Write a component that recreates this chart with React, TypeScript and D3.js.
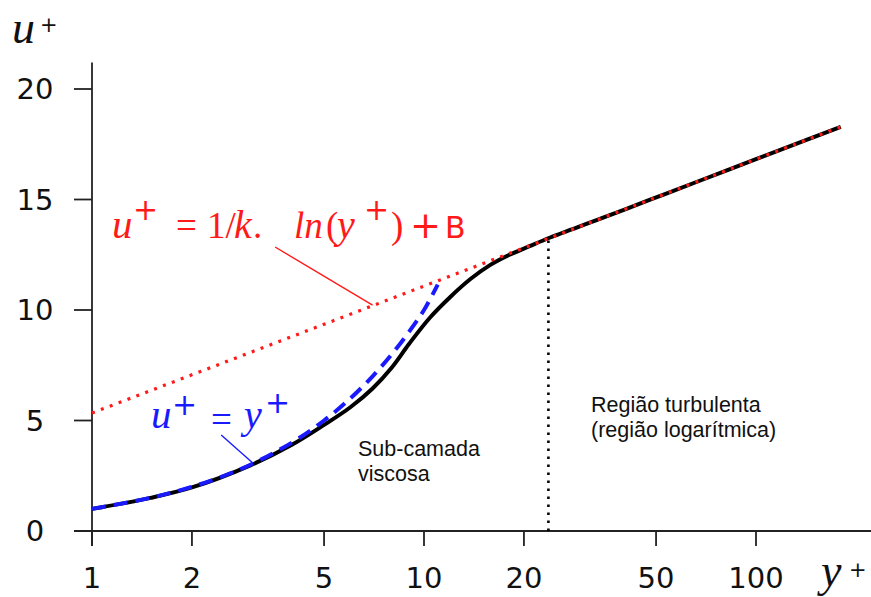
import React from "react";
import * as d3 from "d3";

const xTicks = [1, 2, 5, 10, 20, 50, 100];
const yTicks = [0, 5, 10, 15, 20];

// full velocity profile (black)
const profile: [number, number][] = [
  [1, 1.0], [1.5, 1.5], [2, 1.97], [3, 2.97], [4, 3.9], [5, 4.8], [6, 5.6],
  [7, 6.45], [8, 7.4], [9, 8.45], [10.4, 9.64], [12, 10.59], [13.8, 11.4],
  [15.8, 12.03], [18.1, 12.5], [20.8, 12.89], [24, 13.28], [34, 14.13],
  [48, 14.99], [68, 15.86], [100, 16.83], [140, 17.66], [180, 18.29],
];

// viscous sublayer u+ = y+ (blue dashed)
const viscous: [number, number][] = [
  [1, 1], [1.5, 1.5], [2, 2], [2.5, 2.5], [3, 3], [4, 4], [5, 5], [6, 6],
  [7, 7], [8, 8], [9, 9], [10, 10], [11, 11.15],
];

// log law (red dotted)
const logLaw: [number, number][] = [
  [1, 5.34], [180, 18.29],
];

const redPointer: [number, number][] = [[3.56, 12.85], [7.0, 10.22]];
const bluePointer: [number, number][] = [[2.45, 4.34], [3.05, 3.08]];
const divider: [number, number][] = [[23.7, 0], [23.7, 13.25]];

const xAxisEnd = 222;
const yAxisTop = 21.2;

export default function App() {
  const W = 871, H = 597;
  const x = d3.scaleLog().domain([1, 100]).range([92, 756]);
  const y = d3.scaleLinear().domain([0, 20]).range([531, 89]);
  const line = d3.line<[number, number]>().x(d => x(d[0])).y(d => y(d[1]));
  const smooth = d3.line<[number, number]>().x(d => x(d[0])).y(d => y(d[1])).curve(d3.curveCatmullRom);

  const axisColor = "#222";
  const math = "'Liberation Serif', 'DejaVu Serif', serif";
  const sans = "'DejaVu Sans', sans-serif";
  const arial = "'Liberation Sans', Arial, sans-serif";
  const red = "#ff1a1a";
  const blue = "#1a1aff";
  const fs = 37;
  const sup = 30;

  return (
    <svg width={W} height={H} style={{ position: "absolute", left: 0, top: 0, background: "#fff" }}>
      {/* axes */}
      <line x1={x(1) - 18} x2={x(xAxisEnd)} y1={y(0)} y2={y(0)} stroke={axisColor} strokeWidth={1.8} />
      <line x1={x(1)} x2={x(1)} y1={y(yAxisTop)} y2={y(0) + 15} stroke={axisColor} strokeWidth={1.8} />
      {yTicks.map(t => (
        <g key={"y" + t}>
          <line x1={x(1) - 18} x2={x(1)} y1={y(t)} y2={y(t)} stroke={axisColor} strokeWidth={1.8} />
          <text x={35} y={y(t)} dy="0.36em" textAnchor="middle" fontFamily={sans} fontSize={29} fill="#111">{t}</text>
        </g>
      ))}
      {xTicks.map(t => (
        <g key={"x" + t}>
          <line x1={x(t)} x2={x(t)} y1={y(0)} y2={y(0) + 15} stroke={axisColor} strokeWidth={1.8} />
          <text x={x(t)} y={588} textAnchor="middle" fontFamily={sans} fontSize={29} fill="#111">{t}</text>
        </g>
      ))}

      {/* axis titles */}
      <text x={12} y={43} fontFamily={math} fontStyle="italic" fontSize={46} fill="#111">u</text>
      <text x={40} y={32} fontFamily={sans} fontSize={21} fill="#111">+</text>
      <text x={821} y={586} fontFamily={math} fontStyle="italic" fontSize={46} fill="#111">y</text>
      <text x={849} y={577} fontFamily={sans} fontSize={21} fill="#111">+</text>

      {/* curves */}
      <path d={smooth(profile) || ""} fill="none" stroke="#000" strokeWidth={4} />
      <path d={smooth(viscous) || ""} fill="none" stroke={blue} strokeWidth={4} strokeDasharray="14 8" />
      <path d={line(logLaw) || ""} fill="none" stroke={red} strokeWidth={3.2} strokeDasharray="3 6.5" />
      <path d={line(divider) || ""} fill="none" stroke="#000" strokeWidth={2.6} strokeDasharray="2.6 5.4" />

      {/* pointers */}
      <path d={line(redPointer) || ""} fill="none" stroke={red} strokeWidth={1.4} />
      <path d={line(bluePointer) || ""} fill="none" stroke={blue} strokeWidth={1.4} />

      {/* log-law formula */}
      <g fill={red} fontSize={fs} fontFamily={math}>
        <text x={112} y={238} fontStyle="italic" fontSize={41}>u</text>
        <text x={133} y={220} fontFamily={sans} fontSize={sup}>+</text>
        <text x={176} y={238}>=</text>
        <text x={207} y={238}>1/</text>
        <text x={234} y={238} fontStyle="italic" fontSize={40}>k</text>
        <text x={253} y={238}>.</text>
        <text x={294} y={238} fontStyle="italic">ln</text>
        <text x={326} y={238}>(</text>
        <text x={337} y={238} fontStyle="italic" fontSize={40}>y</text>
        <text x={364} y={220} fontFamily={sans} fontSize={sup}>+</text>
        <text x={391} y={238}>)</text>
        <text x={410} y={238} fontFamily={sans}>+</text>
        <text x={445} y={238} fontFamily={sans} fontSize={30}>B</text>
      </g>

      {/* viscous formula */}
      <g fill={blue} fontSize={fs} fontFamily={math}>
        <text x={151} y={428} fontStyle="italic" fontSize={41}>u</text>
        <text x={172} y={415} fontFamily={sans} fontSize={sup}>+</text>
        <text x={211} y={432}>=</text>
        <text x={244} y={428} fontStyle="italic" fontSize={40}>y</text>
        <text x={265} y={413} fontFamily={sans} fontSize={sup}>+</text>
      </g>

      {/* region labels */}
      <text fontFamily={arial} fontSize={21.5} fill="#111">
        <tspan x={358} y={456}>Sub-camada</tspan>
        <tspan x={358} y={481}>viscosa</tspan>
      </text>
      <text fontFamily={arial} fontSize={21.5} fill="#111">
        <tspan x={591} y={412}>Região turbulenta</tspan>
        <tspan x={591} y={437}>(região logarítmica)</tspan>
      </text>
    </svg>
  );
}
